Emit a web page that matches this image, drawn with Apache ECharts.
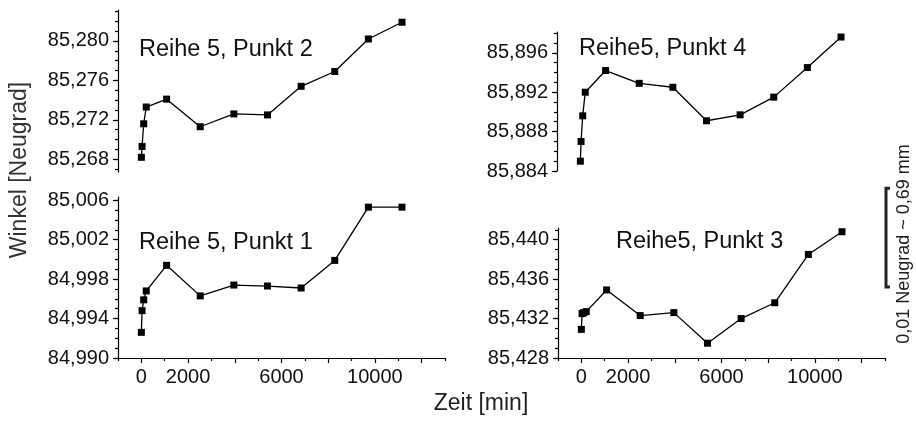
<!DOCTYPE html>
<html>
<head>
<meta charset="utf-8">
<script src="https://cdn.jsdelivr.net/npm/echarts@6/dist/echarts.min.js"></script>
<style>html,body{margin:0;padding:0;background:#fff;}#c{width:916px;height:424px;}</style>
</head>
<body>
<div id="c"></div>
<script>
// ---- data ----
var zeit = [0, 30, 100, 210, 1080, 2520, 3960, 5400, 6840, 8280, 9720, 11160];
var punkt2 = [85.2682, 85.2693, 85.2716, 85.2733, 85.2741, 85.2713, 85.2726, 85.2725, 85.2754, 85.2769, 85.2802, 85.2819];
var punkt4 = [85.8850, 85.8870, 85.8896, 85.8920, 85.8942, 85.8929, 85.8925, 85.8891, 85.8897, 85.8915, 85.8945, 85.8976];
var punkt1 = [84.9926, 84.9948, 84.9959, 84.9968, 84.9994, 84.9963, 84.9974, 84.9973, 84.9971, 84.9999, 85.0053, 85.0053];
var punkt3 = [85.4309, 85.4325, 85.4326, 85.4327, 85.4349, 85.4323, 85.4326, 85.4295, 85.4320, 85.4336, 85.4385, 85.4408];
var titles = ['Reihe 5, Punkt 2', 'Reihe5, Punkt 4', 'Reihe 5, Punkt 1', 'Reihe5, Punkt 3'];
var yTicksTL = [85.268, 85.272, 85.276, 85.280];
var yTicksTR = [85.884, 85.888, 85.892, 85.896];
var yTicksBL = [84.990, 84.994, 84.998, 85.002, 85.006];
var yTicksBR = [85.428, 85.432, 85.436, 85.440];
var xLabels = [0, 2000, 6000, 10000];
var xMajor = [0, 2000, 4000, 6000, 8000, 10000, 12000];
var xMinor = [-1000, 1000, 3000, 5000, 7000, 9000, 11000, 13000];

var FONT = '"Liberation Sans", Arial, Helvetica, sans-serif';

function pairs(ys) { return zeit.map(function (t, i) { return [t, ys[i]]; }); }
function minorList(lo, hi) {
  var out = [];
  var a = Math.ceil(lo * 1000 - 1e-6), b = Math.floor(hi * 1000 + 1e-6);
  for (var k = a; k <= b; k++) out.push(k / 1000);
  return out;
}
function fmt(v) { return v.toFixed(3).replace('.', ','); }
function fmtX(v) { return String(Math.round(v)); }

var grids = [
  { left: 118, top: 10, width: 327, height: 162, min: 85.26671, max: 85.28314, ticks: yTicksTL, data: punkt2, xShow: false },
  { left: 557, top: 32, width: 327, height: 139, min: 85.884, max: 85.89811, ticks: yTicksTR, data: punkt4, xShow: false },
  { left: 118, top: 197, width: 327, height: 161, min: 84.990, max: 85.00633, ticks: yTicksBL, data: punkt1, xShow: true },
  { left: 558, top: 228, width: 327, height: 130, min: 85.428, max: 85.44118, ticks: yTicksBR, data: punkt3, xShow: true }
];

var option = { animation: false, grid: [], xAxis: [], yAxis: [], series: [], title: [] };
var titlePos = [[139, 38], [579, 37], [139, 231], [616, 230]];

grids.forEach(function (g, i) {
  option.grid.push({ left: g.left, top: g.top, width: g.width, height: g.height, containLabel: false });
  option.xAxis.push({
    type: 'value', gridIndex: i, min: -1000, max: 13000, show: g.xShow, position: 'bottom',
    splitLine: { show: false },
    axisLine: { show: true, onZero: false, lineStyle: { color: '#000', width: 1.2 } },
    axisTick: { show: true, inside: false, length: 5, lineStyle: { color: '#000', width: 1.2 }, customValues: xMajor },
    axisLabel: { show: true, margin: 9, color: '#111', fontFamily: FONT, fontSize: 20, customValues: xLabels, formatter: fmtX }
  });
  option.xAxis.push({
    type: 'value', gridIndex: i, min: -1000, max: 13000, show: g.xShow, position: 'bottom', offset: 0,
    splitLine: { show: false },
    axisLine: { show: false, onZero: false },
    axisTick: { show: true, length: 3, lineStyle: { color: '#000', width: 1.2 }, customValues: xMinor },
    axisLabel: { show: false }
  });
  option.yAxis.push({
    type: 'value', gridIndex: i, min: g.min, max: g.max, position: 'left',
    splitLine: { show: false },
    axisLine: { show: true, onZero: false, lineStyle: { color: '#000', width: 1.2 } },
    axisTick: { show: true, length: 5, lineStyle: { color: '#000', width: 1.2 }, customValues: g.ticks },
    axisLabel: { show: true, margin: 9, color: '#111', fontFamily: FONT, fontSize: 20, customValues: g.ticks, formatter: fmt }
  });
  option.yAxis.push({
    type: 'value', gridIndex: i, min: g.min, max: g.max, position: 'left', offset: 0,
    splitLine: { show: false },
    axisLine: { show: false, onZero: false },
    axisTick: { show: true, length: 3, lineStyle: { color: '#000', width: 1.2 }, customValues: minorList(g.min, g.max) },
    axisLabel: { show: false }
  });
  option.series.push({
    type: 'line', xAxisIndex: i * 2, yAxisIndex: i * 2, data: pairs(g.data),
    symbol: 'rect', symbolSize: 7, showSymbol: true,
    lineStyle: { color: '#000', width: 1.3 }, itemStyle: { color: '#000' }
  });
  option.title.push({
    text: titles[i], left: titlePos[i][0], top: titlePos[i][1], padding: 0,
    textStyle: { fontFamily: FONT, fontSize: 23.5, fontWeight: 'normal', color: '#111' }
  });
});

option.graphic = [
  { type: 'text', x: 20, y: 170, rotation: Math.PI / 2, style: { text: 'Winkel [Neugrad]', fontFamily: FONT, fontSize: 23, fill: '#333', align: 'center', verticalAlign: 'middle' } },
  { type: 'text', x: 481, y: 404, style: { text: 'Zeit [min]', fontFamily: FONT, fontSize: 23, fill: '#222', align: 'center', verticalAlign: 'middle' } },
  { type: 'text', x: 904, y: 244, rotation: Math.PI / 2, style: { text: '0,01 Neugrad ~ 0,69 mm', fontFamily: FONT, fontSize: 18, fill: '#222', align: 'center', verticalAlign: 'middle' } }
];

var chart = echarts.init(document.getElementById('c'), null, { renderer: 'canvas' });
chart.setOption(option);

// scale bar: 0.01 Neugrad measured on the lower-right panel's y scale
var yA = chart.convertToPixel({ yAxisIndex: 6 }, 85.4352);
var yB = chart.convertToPixel({ yAxisIndex: 6 }, 85.4452);
var bx = 886;
chart.setOption({
  graphic: option.graphic.concat([
    { type: 'polyline', shape: { points: [[bx + 4, yB], [bx, yB], [bx, yA], [bx + 4, yA]] }, style: { stroke: '#222', lineWidth: 3, fill: null } }
  ])
});
</script>
</body>
</html>
